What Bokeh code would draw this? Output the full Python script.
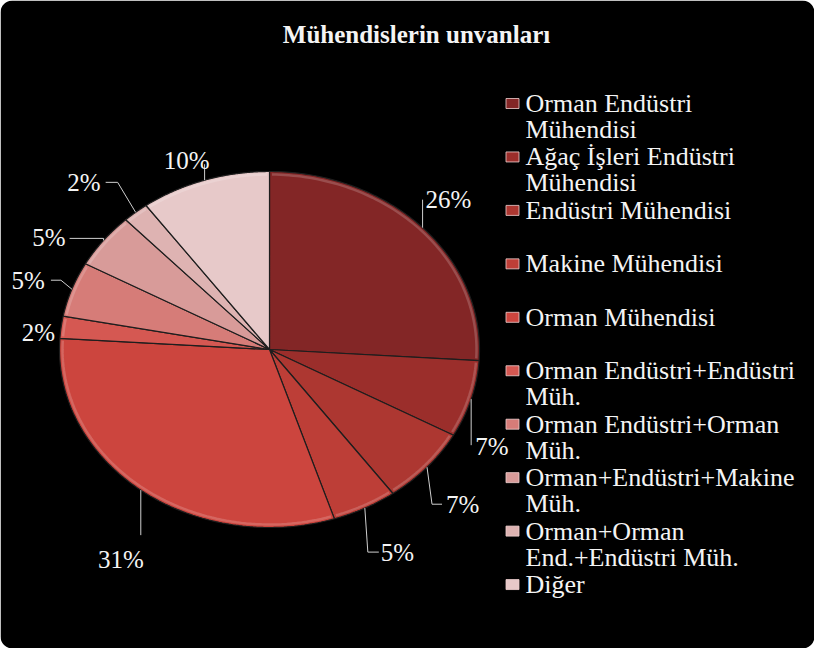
import numpy as np
from bokeh.plotting import figure
from bokeh.models import Range1d, BoxAnnotation
from bokeh.core.properties import value
from bokeh.embed import file_html
from bokeh.resources import INLINE

# ---------------- data ----------------
title_text = "Mühendislerin unvanları"
categories = [
    "Orman Endüstri\nMühendisi",
    "Ağaç İşleri Endüstri\nMühendisi",
    "Endüstri Mühendisi",
    "Makine Mühendisi",
    "Orman Mühendisi",
    "Orman Endüstri+Endüstri\nMüh.",
    "Orman Endüstri+Orman\nMüh.",
    "Orman+Endüstri+Makine\nMüh.",
    "Orman+Orman\nEnd.+Endüstri Müh.",
    "Diğer",
]
percent = [26, 7, 7, 5, 31, 2, 5, 5, 2, 10]

# ---------------- style / layout ----------------
colors = ["#832626", "#9b2e2b", "#ad3731", "#bd3e37", "#cc453e",
          "#d55852", "#d67c78", "#d89b99", "#deb3b2", "#e7c9c9"]
FONT = "Liberation Serif, Times New Roman, serif"
TXT = "#f4f4f4"
CX, CY, RX, RY = 277, 357, 210, 178          # pie ellipse in page pixels
# leader line: elbow offset from the slice edge, horizontal tail, label offset
leader_elbow = [(0, -28), (0, 46), (5, 37), (3, 44), (0, 45), (0, 0), (-11, -9), (0, -2), (-18, -30), (0, -16)]
leader_tail = [0, 0, 10, 11, 0, 0, -10, -34, -12, 0]
label_off = [(3, 0), (4, 1), (4, 0), (2, 0), (-20, 24), (-6, 5), (-6, 0), (-4, -1), (-5, 0), (-18, -4)]
label_align = ["left", "left", "left", "left", "center", "right", "right", "right", "right", "center"]
LEG_X, LEG_Y0, LEG_STEP, LEG_LINE = 520, 111, 53.45, 26

W, H = 814, 648
p = figure(width=W, height=H, output_backend="svg", toolbar_location=None,
           x_range=Range1d(8, 8 + W), y_range=Range1d(8 + H, 8),
           min_border=0, min_border_left=0, min_border_right=0,
           min_border_top=0, min_border_bottom=0)
p.axis.visible = False
p.grid.visible = False
p.outline_line_color = None
p.background_fill_color = "white"
p.border_fill_color = "white"

p.add_layout(BoxAnnotation(fill_color="black", fill_alpha=1.0, line_color=None,
                           border_radius=12, level="underlay"))

# ---------------- pie wedges ----------------
vals = np.array(percent, dtype=float)
frac = vals / vals.sum()
ends = np.cumsum(frac) * 2 * np.pi
starts = ends - frac * 2 * np.pi
xs, ys = [], []
for a0, a1 in zip(starts, ends):
    th = np.linspace(a0, a1, 120)
    xs.append([CX] + list(CX + RX * np.sin(th)))
    ys.append([CY] + list(CY - RY * np.cos(th)))
p.patches(xs, ys, fill_color=colors, line_color="#1e1e1e", line_width=1.2)

# subtle bevel highlight along the outer rim
for a0, a1 in zip(starts, ends):
    th = np.linspace(a0 + 0.012, a1 - 0.012, 80)
    p.line(CX + (RX - 3) * np.sin(th), CY - (RY - 3) * np.cos(th),
           line_color="white", line_alpha=0.18, line_width=2.5)

# ---------------- labels + leader lines ----------------
mids = (starts + ends) / 2
lx, ly, ltxt, lal = [], [], [], []
for i, m in enumerate(mids):
    ex, ey = CX + RX * np.sin(m), CY - RY * np.cos(m)
    bx, by = ex + leader_elbow[i][0], ey + leader_elbow[i][1]
    tx, ty = bx + leader_tail[i], by
    if (bx, by) != (ex, ey) or tx != bx:
        p.line([ex, bx, tx], [ey, by, ty], line_color="#cfcfcf", line_width=1)
    lx.append(tx + label_off[i][0])
    ly.append(ty + label_off[i][1])
    ltxt.append(f"{percent[i]}%")
    lal.append(label_align[i])
p.text(x=lx, y=ly, text=ltxt, text_align=lal, text_baseline="alphabetic",
       text_font=value(FONT), text_font_size="25px", text_color=TXT)

# ---------------- title ----------------
p.text(x=[424], y=[42], text=[title_text], text_align="center", text_baseline="alphabetic",
       text_font=value(FONT), text_font_size="25px", text_font_style="bold", text_color=TXT)

# ---------------- legend ----------------
mx, my, mc = [], [], []
tx_, ty_, tt = [], [], []
for i, name in enumerate(categories):
    yc = LEG_Y0 + i * LEG_STEP
    mx.append(LEG_X); my.append(yc); mc.append(colors[i])
    for j, line in enumerate(name.split("\n")):
        tx_.append(LEG_X + 13); ty_.append(yc + j * LEG_LINE); tt.append(line)
p.rect(x=mx, y=my, width=13, height=10, fill_color=mc, line_color="#f0d0d0", line_width=0.8)
p.text(x=tx_, y=ty_, text=tt, text_align="left", text_baseline="middle",
       text_font=value(FONT), text_font_size="26px", text_color=TXT)

open("out.html", "w").write(file_html(p, INLINE))
